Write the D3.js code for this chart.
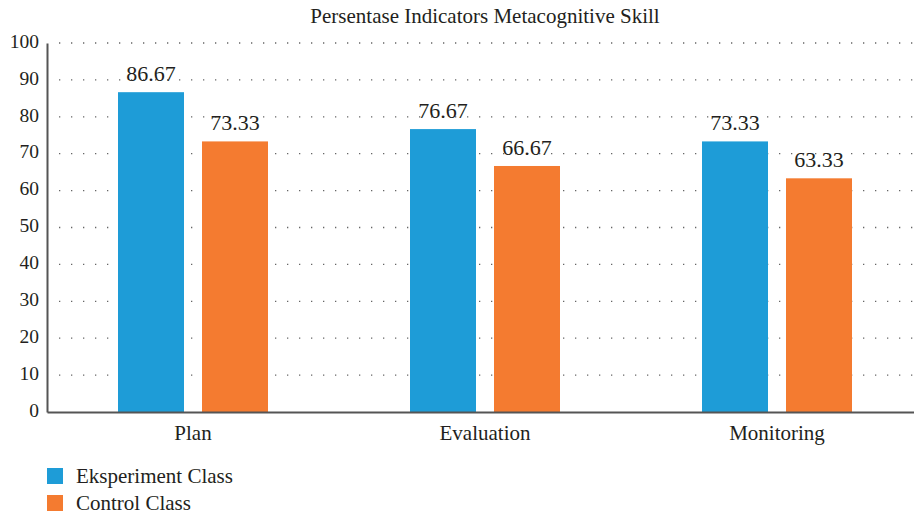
<!DOCTYPE html>
<html><head><meta charset="utf-8">
<script src="https://cdn.jsdelivr.net/npm/d3@7/dist/d3.min.js"></script>
<style>body{margin:0;background:#fff}svg{display:block}svg text{font-family:"Liberation Serif","Times New Roman",serif !important;fill:#231f20}</style>
</head><body><svg id="c" width="914" height="515"></svg>
<script>
const categories = ["Plan", "Evaluation", "Monitoring"];
const seriesNames = ["Eksperiment Class", "Control Class"];
const eksperiment = [86.67, 76.67, 73.33];
const control = [73.33, 66.67, 63.33];
const labelsEks = ["86.67", "76.67", "73.33"];
const labelsCtl = ["73.33", "66.67", "63.33"];
const yTicks = [0,10,20,30,40,50,60,70,80,90,100];
const colors = ["#1e9cd7", "#f47b30"];

(function(){
const svg = d3.select("#c");
const mLeft = 47, mRight = 923, mTop = 43, mBottom = 412;
const x = d3.scaleBand().domain(categories).range([mLeft, mRight]);
const y = d3.scaleLinear().domain([0, 100]).range([mBottom, mTop]);
const x1 = d3.scaleBand().domain(seriesNames).range([0, 150]).paddingInner(18/84);

// grid
svg.append("g").selectAll("line").data(yTicks.filter(d => d > 0)).join("line")
  .attr("x1", mLeft + 12).attr("x2", 914).attr("y1", d => y(d)).attr("y2", d => y(d))
  .attr("stroke", "#666").attr("stroke-width", 1.3).attr("stroke-dasharray", "1.3,10.7");

// y axis
const ya = svg.append("g").attr("transform", `translate(${mLeft},0)`)
  .call(d3.axisLeft(y).tickValues(yTicks).tickSize(0).tickPadding(8));
ya.attr("font-family", null);
ya.select(".domain").attr("stroke", "#555").attr("stroke-width", 2);
ya.selectAll("text").attr("font-size", 19.5).attr("fill", "#231f20").attr("y", -2);

// bars
const data = categories.map((c, i) => ({c, vals: [
  {s: seriesNames[0], v: eksperiment[i], l: labelsEks[i], col: colors[0]},
  {s: seriesNames[1], v: control[i], l: labelsCtl[i], col: colors[1]}]}));
const g = svg.append("g").selectAll("g").data(data).join("g")
  .attr("transform", d => `translate(${x(d.c) + x.bandwidth()/2 - 75},0)`);
g.selectAll("rect").data(d => d.vals).join("rect")
  .attr("x", d => x1(d.s)).attr("width", x1.bandwidth())
  .attr("y", d => y(d.v)).attr("height", d => y(0) - y(d.v)).attr("fill", d => d.col);
g.selectAll("text.v").data(d => d.vals).join("text").attr("class", "v")
  .attr("x", d => x1(d.s) + x1.bandwidth()/2).attr("y", d => y(d.v) - 11)
  .attr("text-anchor", "middle").attr("font-size", 22).text(d => d.l);

// x axis
const xa = svg.append("g").attr("transform", `translate(0,${mBottom})`)
  .call(d3.axisBottom(x).tickSize(0).tickPadding(13));
xa.attr("font-family", null);
xa.select(".domain").attr("stroke", "#555").attr("stroke-width", 2);
xa.selectAll("text").attr("font-size", 21).attr("fill", "#231f20");

// title
svg.append("text").attr("x", (mLeft + mRight)/2).attr("y", 23).attr("text-anchor", "middle")
  .attr("font-size", 21).text("Persentase Indicators Metacognitive Skill");

// legend
const lg = svg.append("g").selectAll("g").data(seriesNames).join("g")
  .attr("transform", (d, i) => `translate(47,${468 + i*27})`);
lg.append("rect").attr("width", 16).attr("height", 16).attr("fill", (d, i) => colors[i]);
lg.append("text").attr("x", 29).attr("y", 14.5).attr("font-size", 21).text(d => d);
})();
</script></body></html>
